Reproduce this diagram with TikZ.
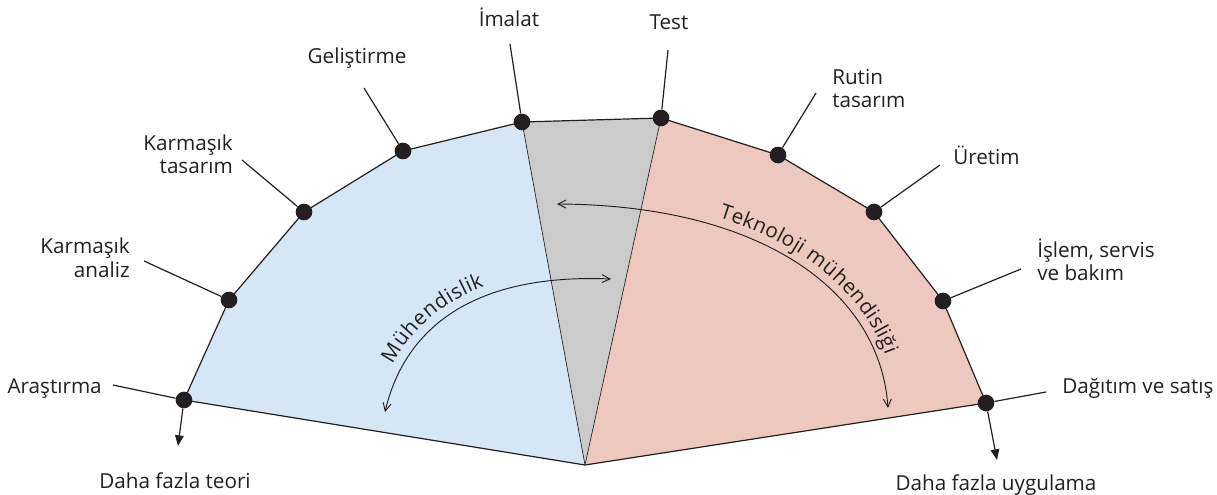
\documentclass[tikz,border=0pt]{standalone}
\usepackage{fontspec}
\setmainfont{Open Sans}
\usetikzlibrary{calc,arrows.meta,decorations.text}
\definecolor{ink}{HTML}{231F20}
\definecolor{bluefill}{HTML}{D5E6F4}
\definecolor{grayfill}{HTML}{CBCBCB}
\definecolor{pinkfill}{HTML}{EDC8BF}
\newcommand\lblfont{\fontsize{15.5}{17.25}\selectfont}
\tikzset{
  lbl/.style={font=\lblfont,text=ink,inner sep=0pt},
  dot/.style={circle,fill=ink,inner sep=0pt,minimum size=12.5pt},
  edge/.style={draw=ink,line width=0.9pt},
  barb/.style={draw=ink,line width=0.7pt,{Straight Barb[length=6pt,width=6pt]}-{Straight Barb[length=6pt,width=6pt]}},
}

\begin{document}
\begin{tikzpicture}[x=0.75pt,y=-0.75pt]
\useasboundingbox (0,0) rectangle (1217,495);
\coordinate (o) at (585,465);
\coordinate (ar) at (184,400);
\coordinate (ka) at (229,300);
\coordinate (kt) at (304,212);
\coordinate (ge) at (403,151);
\coordinate (im) at (522,122);
\coordinate (te) at (661,118);
\coordinate (rt) at (778,155);
\coordinate (ur) at (874,212);
\coordinate (is) at (943,301);
\coordinate (da) at (986,403);
% sectors
\fill[bluefill] (o)--(ar)--(ka)--(kt)--(ge)--(im)--cycle;
\fill[grayfill] (o)--(im)--(te)--cycle;
\fill[pinkfill] (o)--(te)--(rt)--(ur)--(is)--(da)--cycle;
\draw[ink,line width=0.5pt] (im)--(o)--(te);
\draw[edge,line join=round] (o)--(ar)--(ka)--(kt)--(ge)--(im)--(te)--(rt)--(ur)--(is)--(da)--cycle;
% leader ends
\coordinate (ar-l) at (113,385);
\coordinate (ka-l) at (144,261);
\coordinate (kt-l) at (242,160);
\coordinate (ge-l) at (364,88);
\coordinate (im-l) at (510,44);
\coordinate (te-l) at (668,50);
\coordinate (rt-l) at (816,93);
\coordinate (ur-l) at (940,165);
\coordinate (is-l) at (1021,269);
\coordinate (da-l) at (1046,392);
\coordinate (ar-a) at (178,446);
\coordinate (da-a) at (997,460);
\foreach \p in {ar,ka,kt,ge,im,te,rt,ur,is,da}{
  \node[dot] (\p-d) at (\p) {};
  \draw[edge] (\p-l) -- (\p-d);
}
\draw[edge,-{Triangle[length=8pt,width=6.5pt]}] (ar-d) -- (ar-a);
\draw[edge,-{Triangle[length=8pt,width=6.5pt]}] (da-d) -- (da-a);
% labels
\node[lbl,anchor=base east] (ar-t) at (102,393) {Araştırma};
\node[lbl,anchor=base] (teori) at (175,488) {Daha fazla teori};
\node[lbl,anchor=base east,align=right] (ka-t) at (130,277) {Karmaşık\\analiz};
\node[lbl,anchor=base east,align=right] (kt-t) at (233,174) {Karmaşık\\tasarım};
\node[lbl,anchor=base] (ge-t) at (357,64) {Geliştirme};
\node[lbl,anchor=base] (im-t) at (509,27) {İmalat};
\node[lbl,anchor=base] (te-t) at (669,30) {Test};
\node[lbl,anchor=base west,align=left] (rt-t) at (832,108) {Rutin\\tasarım};
\node[lbl,anchor=base west] (ur-t) at (953,165) {Üretim};
\node[lbl,anchor=base west,align=left] (is-t) at (1037,281) {İşlem, servis\\ve bakım};
\node[lbl,anchor=base west] (da-t) at (1062,393) {Dağıtım ve satış};
\node[lbl,anchor=base] (uygulama) at (996,490) {Daha fazla uygulama};
% curved arrows
\coordinate (m1) at (385,412);
\coordinate (m2) at (611,279);
\coordinate (t1) at (557,204);
\coordinate (t2) at (888,408);
\draw[barb] (m1) .. controls (403,335) and (465,273) .. (m2);
\draw[barb] (t1) .. controls (760,205) and (880,290) .. (t2);
\path[decorate,decoration={text along path,text={|\lblfont|Mühendislik},text color=ink,text align={left indent=34pt},raise=7pt}]
  (m1) .. controls (403,335) and (465,273) .. (m2);
\path[decorate,decoration={text along path,text={|\lblfont|Teknoloji mühendisliği},text color=ink,text align={left indent=121pt},raise=6.5pt}]
  (t1) .. controls (760,205) and (880,290) .. (t2);
\end{tikzpicture}
\end{document}
